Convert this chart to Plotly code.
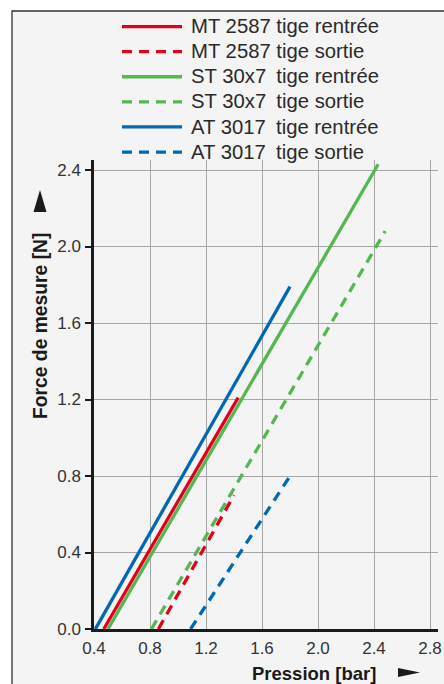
import plotly.graph_objects as go

# ---- data ----
series_names = [
    "MT 2587 tige rentrée",
    "MT 2587 tige sortie",
    "ST 30x7\u2002tige rentrée",
    "ST 30x7\u2002tige sortie",
    "AT 3017\u2002tige rentrée",
    "AT 3017\u2002tige sortie",
]
mt_in_x = [0.47, 1.43]
mt_in_y = [0.0, 1.21]
mt_out_x = [0.86, 1.40]
mt_out_y = [0.0, 0.70]
st_in_x = [0.50, 2.43]
st_in_y = [0.0, 2.43]
st_out_x = [0.81, 2.48]
st_out_y = [0.0, 2.08]
at_in_x = [0.41, 1.80]
at_in_y = [0.0, 1.79]
at_out_x = [1.09, 1.80]
at_out_y = [0.0, 0.80]

x_ticks = [0.4, 0.8, 1.2, 1.6, 2.0, 2.4, 2.8]
x_tick_labels = ["0.4", "0.8", "1.2", "1.6", "2.0", "2.4", "2.8"]
y_ticks = [0.0, 0.4, 0.8, 1.2, 1.6, 2.0, 2.4]
y_tick_labels = ["0.0", "0.4", "0.8", "1.2", "1.6", "2.0", "2.4"]

x_title = "Pression [bar]"
y_title = "Force de mesure [N]"

RED = "#e3001b"
GREEN = "#55b751"
BLUE = "#0068b4"
DASH = "10px,7px"
FONT = "Liberation Sans"
TXT = "#333333"

W, H = 444, 684
ML, MR, MT, MB = 94, 6, 160, 55
PW, PH = W - ML - MR, H - MT - MB


def px_x(p):  # screen pixel -> paper x
    return (p - ML) / PW


def px_y(p):  # screen pixel -> paper y
    return (H - MB - p) / PH


fig = go.Figure()
specs = [
    (mt_in_x, mt_in_y, RED, "solid"),
    (mt_out_x, mt_out_y, RED, DASH),
    (st_in_x, st_in_y, GREEN, "solid"),
    (st_out_x, st_out_y, GREEN, DASH),
    (at_in_x, at_in_y, BLUE, "solid"),
    (at_out_x, at_out_y, BLUE, DASH),
]
for name, (xs, ys, col, dash) in zip(series_names, specs):
    fig.add_trace(go.Scatter(
        x=xs, y=ys, mode="lines",
        name='<span style="font-size:20.3px">\u2009' + name + "</span>",
        line=dict(color=col, width=3.3, dash=dash),
    ))

tri_x = "M {x0} {y0} L {x1} {ym} L {x0} {y1} Z".format(
    x0=px_x(398), x1=px_x(420), y0=px_y(668), y1=px_y(677), ym=px_y(672.5))
tri_y = "M {x0} {y0} L {xm} {y1} L {x1} {y0} Z".format(
    x0=px_x(33.5), x1=px_x(46.5), xm=px_x(40), y0=px_y(212), y1=px_y(190))

fig.update_layout(
    width=W, height=H,
    margin=dict(l=ML, r=MR, t=MT, b=MB, pad=0, autoexpand=False),
    paper_bgcolor="white",
    plot_bgcolor="rgba(0,0,0,0)",
    font=dict(family=FONT, size=17, color=TXT),
    showlegend=True,
    legend=dict(
        x=px_x(117), y=px_y(9), xanchor="left", yanchor="top",
        bgcolor="rgba(0,0,0,0)", borderwidth=0,
        font=dict(family=FONT, size=17, color="#2a2a2a"),
        itemwidth=60, tracegroupgap=0,
    ),
    xaxis=dict(
        range=[0.4, 0.4 + PW / 140.0],
        tickvals=x_ticks, ticktext=x_tick_labels,
        showgrid=True, gridcolor="#a6a6a6", gridwidth=1.4,
        showline=True, linecolor="#1a1a1a", linewidth=2.5,
        ticks="", ticklabelstandoff=2,
        tickfont=dict(family=FONT, size=17, color=TXT),
        zeroline=False, fixedrange=True,
    ),
    yaxis=dict(
        range=[0, PH / 191.25],
        tickvals=y_ticks, ticktext=y_tick_labels,
        showgrid=True, gridcolor="#a6a6a6", gridwidth=1.4,
        showline=True, linecolor="#1a1a1a", linewidth=2.5,
        ticks="outside", ticklen=6, tickwidth=2, tickcolor="#1a1a1a",
        ticklabelstandoff=1,
        tickfont=dict(family=FONT, size=17, color=TXT),
        zeroline=False, fixedrange=True,
    ),
    shapes=[
        dict(type="rect", xref="paper", yref="paper",
             x0=px_x(12), x1=px_x(470), y0=px_y(720), y1=px_y(11),
             fillcolor="#f4f4f4", line=dict(color="#333333", width=1.3),
             layer="below"),
        dict(type="path", xref="paper", yref="paper", path=tri_x,
             fillcolor="#1a1a1a", line=dict(width=0)),
        dict(type="path", xref="paper", yref="paper", path=tri_y,
             fillcolor="#1a1a1a", line=dict(width=0)),
    ],
    annotations=[
        dict(text="<b>" + x_title + "</b>", xref="paper", yref="paper",
             x=px_x(314), y=px_y(673), xanchor="center", yanchor="middle",
             showarrow=False, font=dict(family=FONT, size=18.5, color="#1a1a1a")),
        dict(text="<b>" + y_title + "</b>", xref="paper", yref="paper",
             x=px_x(40), y=px_y(326), xanchor="center", yanchor="middle",
             textangle=-90,
             showarrow=False, font=dict(family=FONT, size=19.3, color="#1a1a1a")),
    ],
)

fig.write_html(
    "out.html",
    config={"displayModeBar": False},
    post_script=(
        "document.body.style.margin='0';"
        "document.documentElement.style.overflow='hidden';"
        "document.body.style.overflow='hidden';"
    ),
)
